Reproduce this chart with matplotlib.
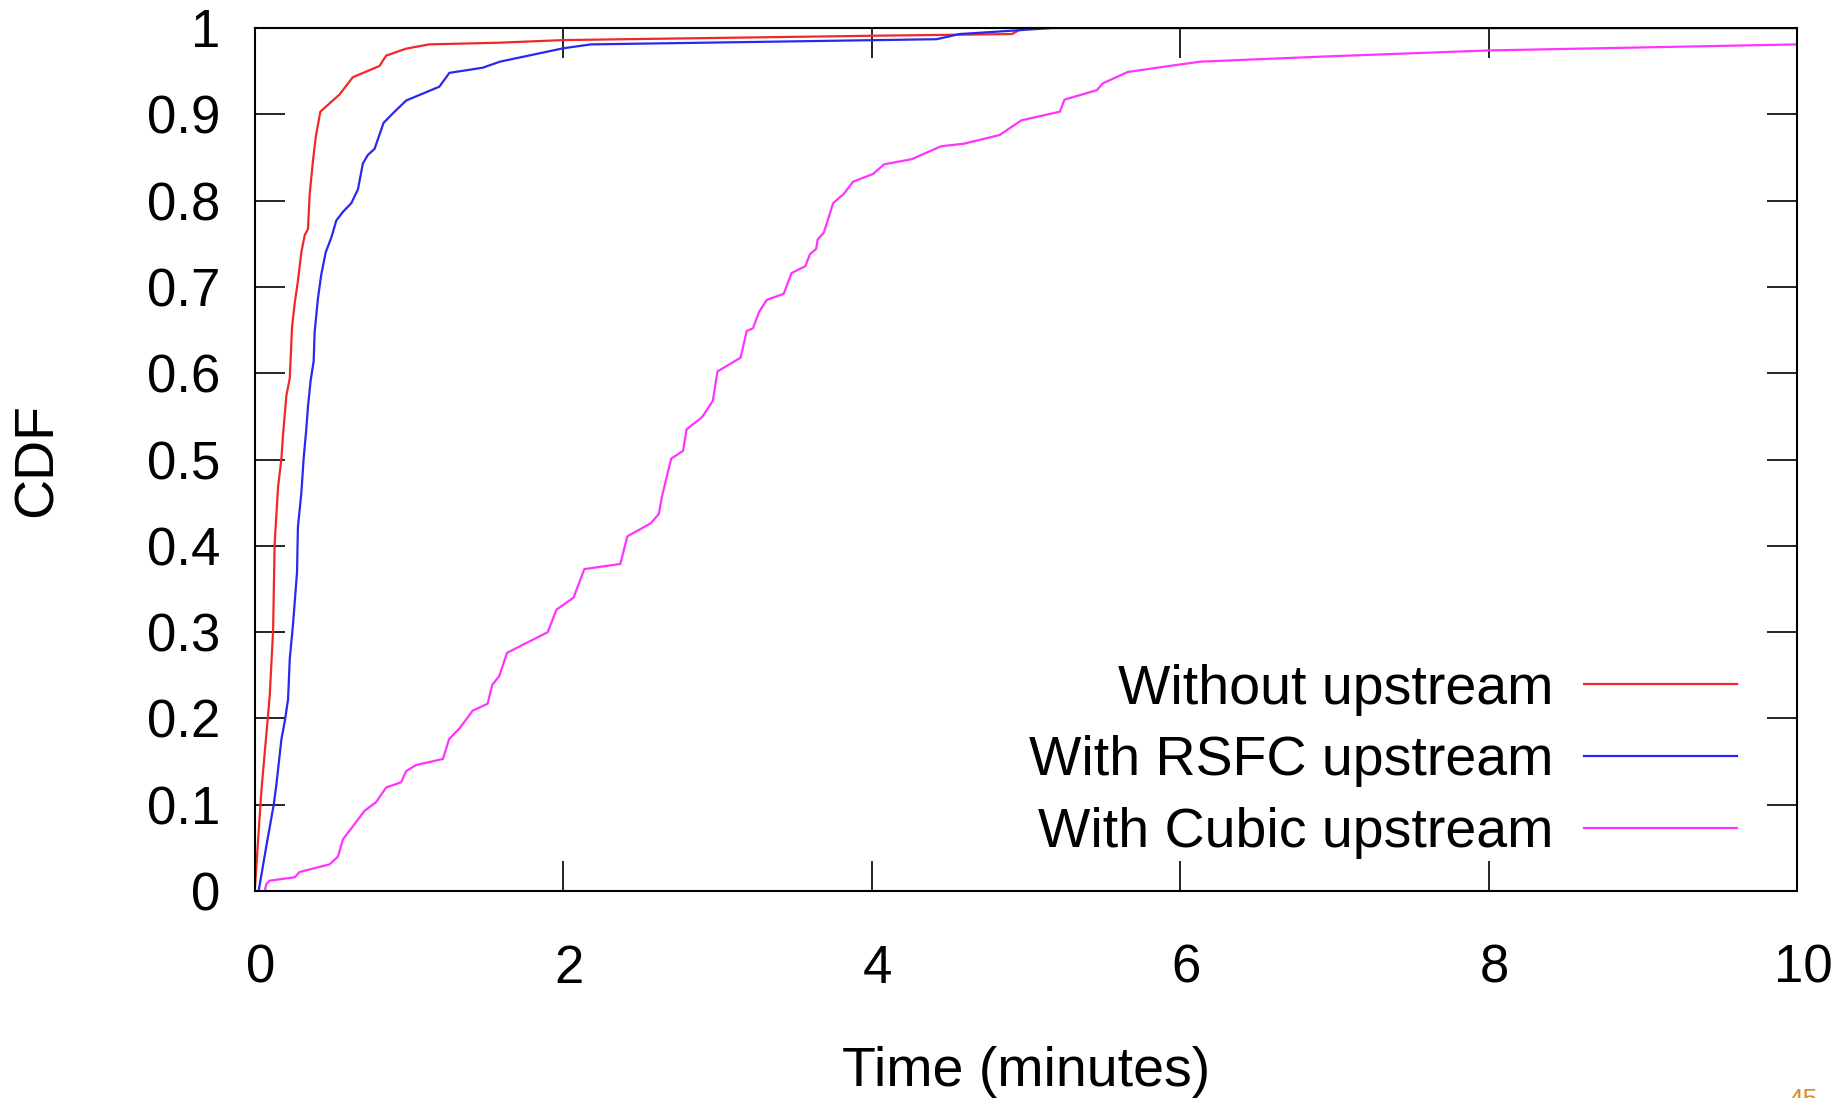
import matplotlib
matplotlib.use("Agg")
import matplotlib.pyplot as plt
from matplotlib.transforms import ScaledTranslation

plt.rcParams['font.family'] = ['Liberation Sans', 'DejaVu Sans']

# ---- data (time in minutes, CDF) ----
t_without = [0, 0.028, 0.043, 0.097, 0.119, 0.129, 0.151, 0.173, 0.183, 0.205,
             0.227, 0.242, 0.259, 0.28, 0.302, 0.324, 0.345, 0.356, 0.378, 0.395,
             0.425, 0.55, 0.636, 0.809, 0.852, 0.98, 1.13, 1.59, 2.0, 4.0,
             4.91, 4.97, 5.0, 10]
cdf_without = [0, 0.076, 0.116, 0.226, 0.302, 0.402, 0.468, 0.501, 0.528, 0.574,
               0.594, 0.654, 0.681, 0.707, 0.740, 0.760, 0.767, 0.807, 0.847, 0.873,
               0.903, 0.923, 0.943, 0.956, 0.968, 0.976, 0.981, 0.983, 0.986, 0.991,
               0.993, 0.999, 1.0, 1.0]

t_rsfc = [0.025, 0.032, 0.076, 0.123, 0.14, 0.173, 0.194, 0.216, 0.227, 0.248,
          0.274, 0.28, 0.302, 0.317, 0.334, 0.345, 0.362, 0.382, 0.388, 0.41,
          0.431, 0.46, 0.496, 0.529, 0.572, 0.626, 0.669, 0.701, 0.734, 0.777,
          0.835, 0.895, 0.982, 1.197, 1.262, 1.478, 1.59, 2.0, 2.18, 4.42,
          4.57, 4.92, 5.17, 10]
cdf_rsfc = [0, 0.007, 0.053, 0.100, 0.123, 0.176, 0.196, 0.222, 0.269, 0.309,
            0.369, 0.422, 0.461, 0.501, 0.535, 0.561, 0.591, 0.614, 0.647, 0.687,
            0.714, 0.740, 0.757, 0.777, 0.787, 0.797, 0.813, 0.843, 0.853, 0.860,
            0.890, 0.901, 0.916, 0.932, 0.948, 0.954, 0.961, 0.9765, 0.981, 0.987,
            0.993, 0.997, 1.0, 1.0]

t_cubic = [0.065, 0.075, 0.097, 0.26, 0.29, 0.486, 0.54, 0.572, 0.615, 0.712,
           0.787, 0.852, 0.949, 0.982, 1.046, 1.22, 1.26, 1.33, 1.413, 1.51,
           1.54, 1.585, 1.636, 1.90, 1.956, 2.067, 2.137, 2.37, 2.416, 2.567,
           2.62, 2.64, 2.70, 2.777, 2.80, 2.90, 2.97, 3.0, 3.15, 3.19,
           3.23, 3.27, 3.32, 3.43, 3.48, 3.57, 3.60, 3.64, 3.65, 3.69,
           3.75, 3.82, 3.88, 4.01, 4.08, 4.26, 4.45, 4.6, 4.83, 4.97,
           5.22, 5.25, 5.46, 5.50, 5.66, 5.89, 6.13, 6.94, 8.0, 10.0]
cdf_cubic = [0, 0.008, 0.012, 0.016, 0.022, 0.031, 0.040, 0.060, 0.070, 0.093,
             0.103, 0.120, 0.126, 0.139, 0.146, 0.153, 0.176, 0.189, 0.209, 0.217,
             0.239, 0.249, 0.276, 0.30, 0.326, 0.34, 0.373, 0.379, 0.411, 0.426,
             0.437, 0.457, 0.501, 0.51, 0.535, 0.549, 0.568, 0.602, 0.618, 0.649,
             0.652, 0.671, 0.685, 0.692, 0.716, 0.724, 0.738, 0.744, 0.755, 0.763,
             0.797, 0.808, 0.822, 0.831, 0.842, 0.848, 0.863, 0.866, 0.876, 0.893,
             0.903, 0.917, 0.928, 0.936, 0.949, 0.955, 0.961, 0.967, 0.974, 0.981]

labels = ["Without upstream", "With RSFC upstream", "With Cubic upstream"]
colors = ["#f02828", "#2828f0", "#ff33ff"]
x_ticks = [0, 2, 4, 6, 8, 10]
y_ticks = [0, 0.1, 0.2, 0.3, 0.4, 0.5, 0.6, 0.7, 0.8, 0.9, 1]
y_ticklabels = ["0", "0.1", "0.2", "0.3", "0.4", "0.5", "0.6", "0.7", "0.8", "0.9", "1"]

FS = 38      # tick labels
FS_L = 40    # axis labels and legend

fig = plt.figure(figsize=(18.46, 10.98), dpi=100)
ax = fig.add_axes([0.138, 0.1885, 0.8355, 0.786])

for t, c, lab, col in zip([t_without, t_rsfc, t_cubic],
                          [cdf_without, cdf_rsfc, cdf_cubic], labels, colors):
    ax.plot(t, c, color=col, lw=1.6, label=lab)

ax.set_xlim(0, 10)
ax.set_ylim(0, 1)
ax.set_xticks(x_ticks)
ax.set_xticklabels([str(v) for v in x_ticks])
ax.set_yticks(y_ticks)
ax.set_yticklabels(y_ticklabels)
ax.tick_params(direction='in', length=21.6, width=1.2, top=True, right=True,
               labelsize=FS, colors='black')
ax.tick_params(axis='x', pad=38)
ax.tick_params(axis='y', pad=25)
for s in ax.spines.values():
    s.set_linewidth(1.5)

off = ScaledTranslation(6 / 100, 0, fig.dpi_scale_trans)
for lbl in ax.get_xticklabels():
    lbl.set_transform(lbl.get_transform() + off)

ax.set_xlabel("Time (minutes)", fontsize=FS_L)
ax.xaxis.set_label_coords(0.5, -0.179)
ax.set_ylabel("CDF", fontsize=FS_L)
ax.yaxis.set_label_coords(-0.124, 0.5)

leg = ax.legend(loc='lower right', bbox_to_anchor=(0.961, 0.037), frameon=False,
                markerfirst=False, fontsize=FS_L, handlelength=2.755,
                handletextpad=0.545, labelspacing=0.355, borderpad=0, borderaxespad=0)

fig.text(1803 / 1846, 1 - 1088 / 1098, "45", color="#d4902a", fontsize=19,
         ha='center', va='top')

fig.savefig("out.png", dpi=100)
